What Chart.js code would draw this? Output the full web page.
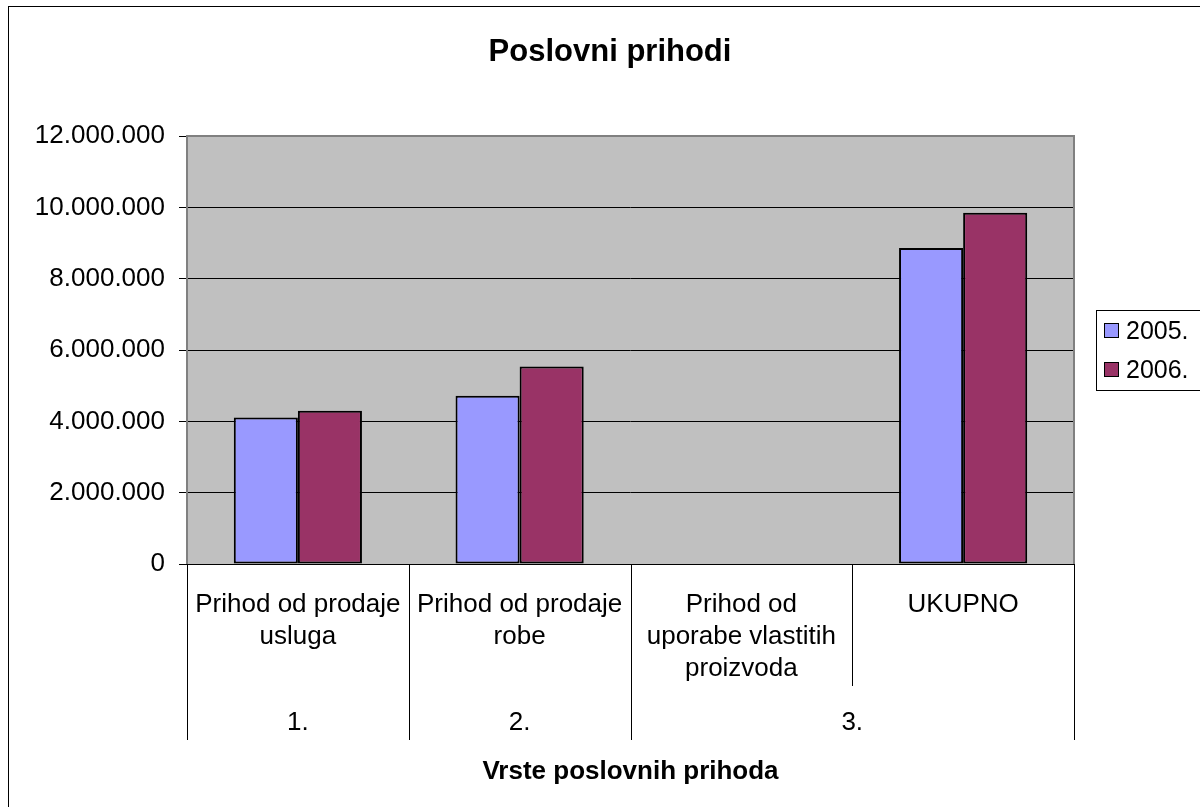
<!DOCTYPE html>
<html>
<head>
<meta charset="utf-8">
<title>Poslovni prihodi</title>
<script src="https://cdn.jsdelivr.net/npm/chart.js@4.4.1/dist/chart.umd.min.js"></script>
<style>
  html, body { margin: 0; padding: 0; background: #fff; }
  #wrap { width: 1200px; height: 807px; }
</style>
</head>
<body>
<div id="wrap"><canvas id="revenue-chart" width="1200" height="807"></canvas></div>
<script>
// chart data
const categories = [
  ["Prihod od prodaje", "usluga"],
  ["Prihod od prodaje", "robe"],
  ["Prihod od", "uporabe vlastitih", "proizvoda"],
  ["UKUPNO"],
];
const groupLabels = ["1.", "2.", "3."];
const groupSpans = [1, 1, 2];
const seriesNames = ["2005.", "2006."];
const values2005 = [4110000, 4720000, 0, 8860000];
const values2006 = [4300000, 5540000, 0, 9850000];
const yTickValues = [0, 2000000, 4000000, 6000000, 8000000, 10000000, 12000000];
const chartTitle = "Poslovni prihodi";
const xAxisTitle = "Vrste poslovnih prihoda";

const FONT = "'Liberation Sans', Arial, sans-serif";

// formats 12000000 -> 12.000.000
function formatNumber(v) {
  return String(Math.round(v)).replace(/\B(?=(\d{3})+(?!\d))/g, ".");
}

// draws plot background, frames, title, second axis level and legend
const excelLook = {
  id: "excelLook",
  beforeDraw(chart) {
    const { ctx, chartArea: a } = chart;
    ctx.save();
    ctx.fillStyle = "#ffffff";
    ctx.fillRect(0, 0, chart.width, chart.height);
    ctx.fillStyle = "#c0c0c0";
    ctx.fillRect(a.left, a.top, a.right - a.left, a.bottom - a.top);
    ctx.restore();
  },
  afterDatasetsDraw(chart) {
    const { ctx, chartArea: a } = chart;
    ctx.save();
    ctx.strokeStyle = "#808080";
    ctx.lineWidth = 2;
    ctx.beginPath();
    ctx.moveTo(a.left, a.bottom);
    ctx.lineTo(a.left, a.top);
    ctx.lineTo(a.right, a.top);
    ctx.lineTo(a.right, a.bottom);
    ctx.stroke();
    ctx.restore();
  },
  afterDraw(chart) {
    const { ctx, chartArea: a } = chart;
    const xScale = chart.scales.x;
    const n = categories.length;
    const catWidth = (a.right - a.left) / n;
    ctx.save();

    // title
    ctx.fillStyle = "#000";
    ctx.textAlign = "center";
    ctx.textBaseline = "middle";
    ctx.font = "bold 31px " + FONT;
    ctx.fillText(chartTitle, 610, 52);

    // category separators (first level)
    ctx.strokeStyle = "#000";
    ctx.lineWidth = 1;
    for (let i = 0; i <= n; i++) {
      const x = Math.round(xScale.getPixelForTick(Math.min(i, n - 1)) + (i === n ? 1 : -1) * catWidth / 2) + 0.5;
      ctx.beginPath();
      ctx.moveTo(x, a.bottom);
      ctx.lineTo(x, a.bottom + 122);
      ctx.stroke();
    }

    // second level: group labels and their separators
    ctx.font = "26px " + FONT;
    let start = 0;
    groupLabels.forEach((label, g) => {
      const end = start + groupSpans[g];
      const x0 = xScale.getPixelForTick(start) - catWidth / 2;
      const x1 = xScale.getPixelForTick(end - 1) + catWidth / 2;
      [x0, x1].forEach((x) => {
        const px = Math.round(x) + 0.5;
        ctx.beginPath();
        ctx.moveTo(px, a.bottom);
        ctx.lineTo(px, a.bottom + 176);
        ctx.stroke();
      });
      ctx.fillText(label, (x0 + x1) / 2, a.bottom + 159);
      start = end;
    });

    // legend
    const lx = 1096.5, ly = 310.5;
    ctx.strokeStyle = "#000";
    ctx.strokeRect(lx, ly, 200, 80);
    ctx.textAlign = "left";
    ctx.font = "25px " + FONT;
    chart.data.datasets.forEach((ds, i) => {
      const cy = 331 + i * 39;
      ctx.fillStyle = ds.backgroundColor;
      ctx.fillRect(1104, cy - 8, 15, 15);
      ctx.strokeRect(1104.5, cy - 7.5, 14, 14);
      ctx.fillStyle = "#000";
      ctx.fillText(ds.label, 1126, cy + 1);
    });

    // outer chart frame
    ctx.strokeRect(8.5, 6.5, 1400, 1000);
    ctx.restore();
  },
};

const revenueChart = new Chart(document.getElementById("revenue-chart"), {
  type: "bar",
  data: {
    labels: categories,
    datasets: [
      {
        label: seriesNames[0],
        data: values2005,
        backgroundColor: "#9999ff",
        borderColor: "#000000",
        borderWidth: 2,
        borderSkipped: false,
      },
      {
        label: seriesNames[1],
        data: values2006,
        backgroundColor: "#993366",
        borderColor: "#000000",
        borderWidth: 2,
        borderSkipped: false,
      },
    ],
  },
  options: {
    responsive: false,
    animation: false,
    devicePixelRatio: 1,
    categoryPercentage: 0.578,
    barPercentage: 1.0,
    layout: { padding: { top: 136, right: 126, bottom: 0, left: 0 } },
    plugins: {
      legend: { display: false },
      title: { display: false },
      tooltip: { enabled: false },
    },
    scales: {
      x: {
        grid: { display: false, drawTicks: false },
        border: { display: true, color: "#000", width: 1 },
        ticks: {
          color: "#000",
          font: { family: FONT, size: 26, lineHeight: 32 / 26 },
          padding: 25,
          maxRotation: 0,
          autoSkip: false,
        },
        title: {
          display: true,
          text: xAxisTitle,
          color: "#000",
          font: { family: FONT, size: 26, weight: "bold", lineHeight: 1.2 },
          padding: { top: 0, bottom: 20 },
        },
        afterFit(scale) {
          scale.height = 243;
        },
      },
      y: {
        min: 0,
        max: 12000000,
        afterBuildTicks(scale) {
          scale.ticks = yTickValues.map((v) => ({ value: v }));
        },
        grid: {
          color: "#000",
          lineWidth: 1,
          tickLength: 8,
          tickColor: "#000",
        },
        border: { display: false },
        ticks: {
          color: "#000",
          font: { family: FONT, size: 26 },
          padding: 14,
          callback: (v) => formatNumber(v),
        },
        afterFit(scale) {
          scale.width = 187;
        },
      },
    },
  },
  plugins: [excelLook],
});
</script>
</body>
</html>
